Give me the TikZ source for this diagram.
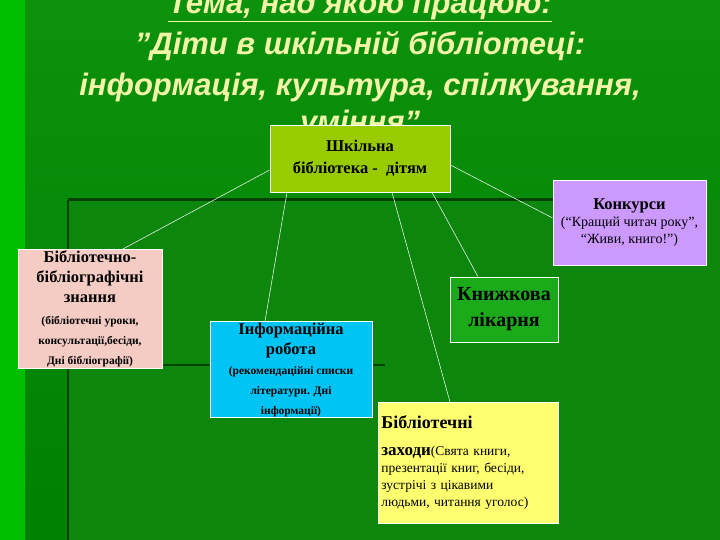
\documentclass[tikz,border=0pt]{standalone}
\usepackage{fontspec}
\setmainfont{Liberation Serif}
\newfontfamily\titlefont{Liberation Sans}
\newcommand\smtxt{\bfseries\fontsize{11.5}{14}\selectfont}
\definecolor{ttlc}{HTML}{F2F5A8}
\definecolor{topc}{HTML}{99CC00}
\definecolor{konc}{HTML}{CC99FF}
\definecolor{bibc}{HTML}{F4CCC4}
\definecolor{knc}{HTML}{1AAA1A}
\definecolor{infc}{HTML}{00C4F4}
\definecolor{zahc}{HTML}{FFFF70}
\begin{document}
\begin{tikzpicture}[x=1pt,y=-1pt,
  box/.style={draw=white,line width=0.8pt,align=center,font=\bfseries\fontsize{16.5}{20}\selectfont,text=black,inner sep=1pt},
  conn/.style={draw=white,line width=0.5pt},
  ttl/.style={font=\titlefont\bfseries\itshape\fontsize{31}{34}\selectfont,text=ttlc}]
\useasboundingbox (0,0) rectangle (720,540);
\shade[top color=green!55!black!95, bottom color=green!50!black] (0,0) rectangle (720,540);
\fill[green!75!black] (0,0) rectangle (25,540);
\fill[green!50!black!95] (68,200) rectangle (720,540);
\draw[green!25!black,line width=3pt] (68,200) -- (640,200);
\draw[green!25!black,line width=1.5pt] (68,200) -- (68,540);
\draw[green!25!black,line width=2.5pt] (18,365) -- (385,365);
\node[ttl] (t1) at (360,6) {\underline{Тема, над якою працюю:}};
\node[ttl] (t2) at (360,46) {\char"201D Діти в шкільній бібліотеці:};
\node[ttl] (t3) at (360,87) {інформація, культура, спілкування,};
\node[ttl] (t4) at (360,124) {уміння\char"201D};
\node[box,fill=topc,minimum width=180pt,minimum height=67pt] (top) at (360,158.5) {Шкільна\\[2pt]бібліотека -\ \ дітям};
\node[box,fill=konc,minimum width=153pt,minimum height=85pt,font=\fontsize{14}{17}\selectfont] (kon) at (629.5,222.5) {{\bfseries\fontsize{16.5}{20}\selectfont Конкурси}\\(“Кращий читач року”,\\“Живи, книго!”)};
\node[box,fill=bibc,minimum width=144pt,minimum height=114pt] (bib) at (90,309) {Бібліотечно-\\бібліографічні\\знання\\[2pt]{\smtxt(бібліотечні уроки,}\\{\smtxt консультації,бесіди,}\\{\smtxt Дні бібліографії)}};
\node[box,fill=knc,minimum width=108pt,minimum height=65pt,font=\bfseries\fontsize{20}{26}\selectfont] (kn) at (504,309.5) {Книжкова\\лікарня};
\node[box,fill=infc,minimum width=162pt,minimum height=91pt] (inf) at (291,369.5) {Інформаційна\\робота\\{\smtxt(рекомендаційні списки}\\{\smtxt літератури. Дні}\\{\smtxt інформації)}};
\node[box,fill=zahc,minimum width=180pt,minimum height=121pt,align=left,anchor=north west,font=\fontsize{13.5}{17}\selectfont,text width=174pt,inner sep=3pt] (zah) at (378,402) {{\bfseries\fontsize{18}{20}\selectfont Бібліотечні}\\[10pt]{\bfseries\fontsize{17}{20}\selectfont заходи}(Свята книги,\\презентації книг, бесіди,\\зустрічі з цікавими\\людьми, читання уголос)};
\draw[conn] (top.west |- 0,170) -- (bib.north -| 122,0);
\draw[conn] (top.south -| 287,0) -- (inf.north -| 265,0);
\draw[conn] (top.south -| 392,0) -- (zah.north -| 450,0);
\draw[conn] (top.south -| 432,0) -- (kn.north -| 478,0);
\draw[conn] (top.east |- 0,165) -- (kon.west |- 0,218);
\end{tikzpicture}
\end{document}
